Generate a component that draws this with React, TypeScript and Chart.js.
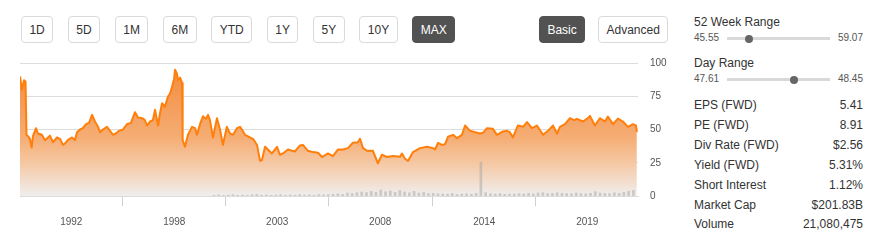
import React, { useEffect, useRef } from 'react';
import { Chart, registerables } from 'chart.js';

Chart.register(...registerables);

const FONT = "'Liberation Sans', Arial, Helvetica, sans-serif";

// Price series (decimal year, close)
const priceDates = [
  1990.00, 1990.10, 1990.21, 1990.29, 1990.34, 1990.42, 1990.52, 1990.61, 1990.68, 1990.84,
  1990.94, 1991.15, 1991.31, 1991.47, 1991.57, 1991.73, 1991.94, 1992.10, 1992.25, 1992.36,
  1992.52, 1992.73, 1992.88, 1992.99, 1993.15, 1993.30, 1993.46, 1993.62, 1993.78, 1993.93,
  1994.09, 1994.20, 1994.35, 1994.56, 1994.72, 1994.88, 1995.03, 1995.19, 1995.40, 1995.61,
  1995.82, 1996.03, 1996.19, 1996.40, 1996.55, 1996.66, 1996.82, 1996.97, 1997.08, 1997.24,
  1997.34, 1997.45, 1997.60, 1997.76, 1997.87, 1997.97, 1998.08, 1998.13, 1998.23, 1998.29,
  1998.39, 1998.50, 1998.53, 1998.65, 1998.81, 1999.02, 1999.18, 1999.28, 1999.44, 1999.60,
  1999.75, 1999.86, 1999.96, 2000.12, 2000.33, 2000.49, 2000.64, 2000.85, 2001.01, 2001.17,
  2001.38, 2001.54, 2001.64, 2001.80, 2002.06, 2002.22, 2002.43, 2002.59, 2002.69, 2002.85,
  2003.00, 2003.21, 2003.48, 2003.63, 2003.79, 2004.05, 2004.26, 2004.42, 2004.68, 2004.84,
  2005.10, 2005.36, 2005.63, 2005.84, 2006.15, 2006.41, 2006.68, 2006.94, 2007.20, 2007.46,
  2007.72, 2007.83, 2007.99, 2008.20, 2008.51, 2008.77, 2008.98, 2009.24, 2009.56, 2009.93,
  2010.03, 2010.19, 2010.35, 2010.61, 2010.98, 2011.34, 2011.66, 2011.77, 2011.92, 2012.13,
  2012.29, 2012.45, 2012.71, 2012.92, 2013.18, 2013.34, 2013.60, 2013.86, 2014.12, 2014.28,
  2014.49, 2014.80, 2015.01, 2015.33, 2015.54, 2015.69, 2015.85, 2016.11, 2016.38, 2016.59,
  2016.85, 2017.11, 2017.43, 2017.69, 2017.95, 2018.16, 2018.32, 2018.58, 2018.84, 2019.05,
  2019.21, 2019.52, 2019.73, 2019.89, 2020.15, 2020.41, 2020.68, 2020.83, 2021.10, 2021.36,
  2021.62, 2021.88, 2022.15, 2022.30, 2022.35,
];

const priceValues = [
  90, 80, 87, 86, 46, 45, 43, 36.4, 45, 51,
  47, 46, 42, 44, 45.4, 40.5, 44, 43, 38.4, 39.5,
  42.2, 44, 42, 48, 50, 51, 54, 55, 61, 56,
  52, 48, 50, 52, 49, 46, 47, 49, 50, 54,
  55, 63, 59, 58.5, 57, 53, 56, 57, 64.8, 53,
  62, 69.8, 67, 74.8, 77, 82, 88, 95, 92, 87,
  89, 85, 42, 37, 46, 52, 51, 46, 54, 60,
  58, 61, 57, 44, 58.5, 50, 38.4, 52, 47, 46,
  51, 52, 50, 46, 44, 43, 38.4, 26.4, 27, 37,
  35, 32, 37, 31, 32, 35, 34, 33.5, 38, 38.4,
  34, 33, 32.5, 29.3, 32, 30, 35, 35, 36, 40,
  40.4, 43, 36, 34, 34, 24.6, 31, 29.3, 30, 29.5,
  32, 28, 26.4, 33, 36, 37, 36, 35, 40, 38.4,
  39, 44.6, 46, 43.5, 46, 53, 49, 48, 47, 47.5,
  51, 50.5, 46, 48.5, 49, 48, 44, 53, 52, 55.6,
  51, 53, 46, 49, 53, 47, 52, 54, 58.5, 57,
  58, 56, 58, 60.2, 53, 58.5, 56, 59.7, 54, 58.2,
  56, 52, 54, 53, 48,
];

// Volume (relative), quarterly from volumeStart
const volumeStart = 2000.17;
const volumeStep = 0.25;
const volumeValues = [
  0.5, 0.8, 0.4, 0.6, 1.0, 0.5, 0.7, 0.4,
  0.9, 1.2, 0.6, 0.8, 0.5, 0.7, 1.0, 0.6,
  0.8, 0.6, 1.0, 0.7, 0.9, 0.6, 1.1, 0.8,
  1.0, 1.3, 1.6, 1.2, 2.2, 1.8, 2.5, 3.0,
  2.6, 3.5, 2.8, 4.5, 3.2, 3.8, 2.7, 4.0,
  3.0, 2.4, 3.5, 2.2, 2.8, 1.8, 2.0, 1.6,
  1.5, 1.4, 1.8, 1.2, 1.5, 1.6, 1.3, 2.0,
  25.5,
  2.5, 1.6, 1.4, 1.8, 1.2, 1.5, 1.4,
  1.8, 1.5, 2.0, 1.6, 2.2, 2.5, 1.8, 2.0,
  2.4, 2.0, 1.8, 1.6, 2.2, 1.8, 1.6, 2.0,
  3.2, 2.2, 2.0, 1.8, 2.4, 2.0, 2.8, 3.5, 4.2,
];

const xMin = 1990.0;
const xMax = 2022.41;
const xTickYears = [1992.69, 1998.09, 2003.49, 2008.89, 2014.35, 2019.75];
const xTickLabels = ['1992', '1998', '2003', '2008', '2014', '2019'];
const yTicks = [0, 25, 50, 75, 100];

const rangeButtons = ['1D', '5D', '1M', '6M', 'YTD', '1Y', '5Y', '10Y', 'MAX'];
const activeRange = 'MAX';
const viewButtons = ['Basic', 'Advanced'];
const activeView = 'Basic';

const lastPrice = 48.17;
const weekLow = 45.55;
const weekHigh = 59.07;
const dayLow = 47.61;
const dayHigh = 48.45;

const statLabels = ['EPS (FWD)', 'PE (FWD)', 'Div Rate (FWD)', 'Yield (FWD)', 'Short Interest', 'Market Cap', 'Volume'];
const statValues = ['5.41', '8.91', '$2.56', '5.31%', '1.12%', '$201.83B', '21,080,475'];

function Btn({ label, active }: { label: string; active: boolean }) {
  return (
    <div
      style={{
        boxSizing: 'border-box',
        height: 27,
        padding: '0 7.4px',
        border: active ? '1px solid #525252' : '1px solid #dadada',
        background: active ? '#525252' : '#fff',
        color: active ? '#fff' : '#333',
        borderRadius: 4,
        fontSize: 12,
        display: 'flex',
        alignItems: 'center',
        whiteSpace: 'nowrap',
      }}
    >
      {label}
    </div>
  );
}

function RangeRow({ top, low, high, value }: { top: number; low: number; high: number; value: number }) {
  const trackLeft = 33;
  const trackWidth = 103;
  const knob = 8;
  const f = (value - low) / (high - low);
  const cx = trackLeft + knob / 2 + f * (trackWidth - knob);
  return (
    <div style={{ position: 'absolute', left: 0, top, width: 169, height: 12, fontSize: 10, color: '#555' }}>
      <div style={{ position: 'absolute', left: 0, top: 0, lineHeight: '12px' }}>{low.toFixed(2)}</div>
      <div style={{ position: 'absolute', right: 0, top: 0, lineHeight: '12px' }}>{high.toFixed(2)}</div>
      <div style={{ position: 'absolute', left: trackLeft, top: 5, width: trackWidth, height: 3, background: '#d9d9d9' }} />
      <div
        style={{
          position: 'absolute',
          left: cx - knob / 2,
          top: 6.5 - knob / 2,
          width: knob,
          height: knob,
          borderRadius: '50%',
          background: '#666',
        }}
      />
    </div>
  );
}

export default function App() {
  const ref = useRef<HTMLCanvasElement>(null);

  useEffect(() => {
    const canvas = ref.current;
    if (!canvas) return;
    const chart = new Chart(canvas, {
      type: 'line',
      data: {
        datasets: [
          {
            type: 'bar',
            label: 'Volume',
            yAxisID: 'yVol',
            data: volumeValues.map((v, i) => ({ x: volumeStart + i * volumeStep, y: v })),
            backgroundColor: 'rgba(165,165,165,0.5)',
            barThickness: 2,
            order: 0,
          } as any,
          {
            type: 'line',
            label: 'Price',
            yAxisID: 'y',
            data: priceDates.map((d, i) => ({ x: d, y: priceValues[i] })),
            borderColor: '#ff7f0a',
            borderWidth: 2,
            pointRadius: 0,
            tension: 0,
            borderJoinStyle: 'round',
            fill: 'origin',
            backgroundColor: (ctx: any) => {
              const { chart: c } = ctx;
              const area = c.chartArea;
              if (!area) return 'rgba(245,160,100,0.6)';
              const g = c.ctx.createLinearGradient(0, area.top, 0, area.bottom);
              g.addColorStop(0, '#f28a3a');
              g.addColorStop(0.56, '#f5ad74');
              g.addColorStop(0.76, '#f5c9a5');
              g.addColorStop(1, '#f0eeee');
              return g;
            },
            order: 1,
          } as any,
        ],
      },
      options: {
        responsive: false,
        animation: false,
        devicePixelRatio: 1,
        layout: { padding: { left: 20, top: 8, right: 0, bottom: 0 } },
        plugins: { legend: { display: false }, tooltip: { enabled: false } },
        scales: {
          x: {
            type: 'linear',
            min: xMin,
            max: xMax,
            offset: false,
            grid: { drawOnChartArea: false, drawTicks: true, tickLength: 10, color: '#d0d0d0' },
            border: { display: true, color: '#dcdcdc' },
            ticks: {
              autoSkip: false,
              maxRotation: 0,
              padding: 10,
              color: '#555',
              font: { size: 10, family: FONT },
              callback: (_v: any, i: number) => xTickLabels[i],
            },
            afterBuildTicks: (s: any) => {
              s.ticks = xTickYears.map((v) => ({ value: v }));
            },
            afterFit: (s: any) => {
              s.height = 44;
            },
          },
          y: {
            position: 'right',
            min: 0,
            max: 100,
            grid: { color: '#dddddd', drawTicks: true, tickLength: 12, tickColor: 'rgba(0,0,0,0)' },
            border: { display: false },
            ticks: { padding: 0, color: '#555', font: { size: 10, family: FONT } },
            afterBuildTicks: (s: any) => {
              s.ticks = yTicks.map((v) => ({ value: v }));
            },
            afterFit: (s: any) => {
              s.width = 42;
            },
          },
          yVol: { display: false, min: 0, max: 100 },
        },
      } as any,
    });
    return () => chart.destroy();
  }, []);

  return (
    <div
      style={{
        position: 'absolute',
        left: 0,
        top: 0,
        width: 883,
        height: 240,
        background: '#fff',
        fontFamily: FONT,
        color: '#333',
        overflow: 'hidden',
      }}
    >
      <div style={{ position: 'absolute', left: 21, top: 16, display: 'flex', gap: 14.8 }}>
        {rangeButtons.map((b) => (
          <Btn key={b} label={b} active={b === activeRange} />
        ))}
      </div>
      <div style={{ position: 'absolute', left: 539, top: 16, display: 'flex', gap: 13 }}>
        {viewButtons.map((b) => (
          <Btn key={b} label={b} active={b === activeView} />
        ))}
      </div>

      <canvas
        ref={ref}
        width={680}
        height={185}
        style={{ position: 'absolute', left: 0, top: 55, width: 680, height: 185 }}
      />

      <div style={{ position: 'absolute', left: 694, top: 0, width: 169, height: 240 }}>
        <div style={{ position: 'absolute', left: 0, top: 15, fontSize: 12, lineHeight: '14px' }}>52 Week Range</div>
        <RangeRow top={32} low={weekLow} high={weekHigh} value={lastPrice} />
        <div style={{ position: 'absolute', left: 0, top: 56, fontSize: 12, lineHeight: '14px' }}>Day Range</div>
        <RangeRow top={73} low={dayLow} high={dayHigh} value={lastPrice} />
        {statLabels.map((l, i) => (
          <div
            key={l}
            style={{
              position: 'absolute',
              left: 0,
              top: 95 + i * 19.9,
              width: 169,
              height: 20,
              lineHeight: '20px',
              fontSize: 12,
              display: 'flex',
              justifyContent: 'space-between',
            }}
          >
            <span>{l}</span>
            <span>{statValues[i]}</span>
          </div>
        ))}
      </div>
    </div>
  );
}
